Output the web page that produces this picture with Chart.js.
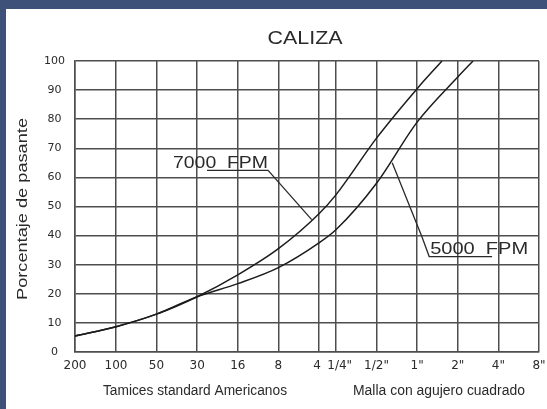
<!DOCTYPE html>
<html>
<head>
<meta charset="utf-8">
<script src="https://cdn.jsdelivr.net/npm/chart.js@4.4.1/dist/chart.umd.min.js"></script>
<style>
  html, body { margin: 0; padding: 0; background: #fff; overflow: hidden; }
  #wrap { position: relative; width: 547px; height: 409px; overflow: hidden; background: #fff; }
  #chart { position: absolute; left: 0; top: 0; }
  .bar { position: absolute; background: #3e5279; }
</style>
</head>
<body>
<div id="wrap">
  <canvas id="chart" width="560" height="409"></canvas>
  <div class="bar" style="left:0;top:0;width:547px;height:9px"></div>
  <div class="bar" style="left:0;top:0;width:6px;height:409px"></div>
</div>
<script>
// sieve openings in mm (log axis) and the labels printed under them
const SIEVE_MM = [0.074, 0.149, 0.297, 0.595, 1.19, 2.38, 4.76, 6.35, 12.7, 25.4, 50.8, 101.6, 203.2];
const SIEVE_LABELS = ['200', '100', '50', '30', '16', '8', '4 ', '  1/4"', '1/2"', '1"', '2"', '4"', '8"'];
const Y_TICKS = [0, 10, 20, 30, 40, 50, 60, 70, 80, 90, 100];

// percent passing
const FPM7000_X = [0.074, 0.149, 0.297, 0.595, 1.19, 2.38, 4.76, 6.35, 12.7, 25.4, 38.8];
const FPM7000_Y = [5.5, 8.7, 13, 19, 26.5, 35.5, 47.5, 54, 73.5, 90.5, 100];
const FPM5000_X = [0.074, 0.149, 0.297, 0.595, 1.19, 2.38, 4.76, 6.35, 12.7, 25.4, 50.8, 65.9];
const FPM5000_Y = [5.5, 8.7, 13, 19, 23.5, 29, 37.5, 42, 58, 79, 94.5, 100];

// leader notes, in data units (mm, %)
const NOTE_7000 = { text: '7000  FPM', at: [0.394, 63.2], line: [[0.704, 62.4], [1.995, 62.4], [4.2, 45.5]] };
const NOTE_5000 = { text: '5000  FPM', at: [31.7, 33.8], line: [[16.6, 65], [27.6, 39.5], [31.2, 32.8], [91.3, 32.8]] };

const INK = '#2a2a2a';
const GRID = '#4e4e4e';

const toPts = (xs, ys) => xs.map((x, i) => ({ x: x, y: ys[i] }));

// text squeezed/stretched to a given width, like the CAD lettering
function fitText(ctx, text, x, y, size, width, family) {
    ctx.font = size + 'px ' + (family || '"Liberation Sans", Arial, sans-serif');
    const w = ctx.measureText(text).width;
    ctx.save();
    ctx.translate(x, y);
    ctx.scale(width / w, 1);
    ctx.textAlign = 'left';
    ctx.fillText(text, 0, 0);
    ctx.restore();
}

function fitTextCenter(ctx, text, cx, y, size, width, family) {
    fitText(ctx, text, cx - width / 2, y, size, width, family);
}

const decor = {
    id: 'decor',
    afterDraw(chart) {
        const { ctx, scales: { x, y } } = chart;
        ctx.save();
        ctx.fillStyle = INK;
        ctx.strokeStyle = INK;
        ctx.textBaseline = 'alphabetic';

        fitTextCenter(ctx, 'CALIZA', 305, 44, 19, 75);

        // y axis title
        ctx.save();
        ctx.translate(27, 209);
        ctx.rotate(-Math.PI / 2);
        fitTextCenter(ctx, 'Porcentaje de pasante', 0, 0, 14, 182);
        ctx.restore();

        fitTextCenter(ctx, 'Tamices standard Americanos', 195, 395, 14, 184);
        fitTextCenter(ctx, 'Malla con agujero cuadrado', 439, 395, 14, 172);

        // leader notes
        [[NOTE_7000, 95], [NOTE_5000, 98]].forEach(([n, w]) => {
            fitText(ctx, n.text, x.getPixelForValue(n.at[0]), y.getPixelForValue(n.at[1]), 16, w);
            ctx.lineWidth = 1.3;
            ctx.beginPath();
            n.line.forEach((p, i) => {
                const px = x.getPixelForValue(p[0]), py = y.getPixelForValue(p[1]);
                if (i === 0) ctx.moveTo(px, py); else ctx.lineTo(px, py);
            });
            ctx.stroke();
        });
        ctx.restore();
    }
};

new Chart(document.getElementById('chart'), {
    type: 'line',
    data: {
        datasets: [
            { label: '7000 FPM', data: toPts(FPM7000_X, FPM7000_Y) },
            { label: '5000 FPM', data: toPts(FPM5000_X, FPM5000_Y) }
        ]
    },
    options: {
        responsive: false,
        animation: false,
        devicePixelRatio: 1,
        layout: { padding: { left: 0, top: 61, right: 21, bottom: 7 } },
        elements: {
            line: { borderColor: '#1c1c1c', borderWidth: 1.5, cubicInterpolationMode: 'monotone', fill: false },
            point: { radius: 0, hoverRadius: 0 }
        },
        plugins: { legend: { display: false }, title: { display: false }, tooltip: { enabled: false } },
        scales: {
            x: {
                type: 'logarithmic',
                min: SIEVE_MM[0],
                max: SIEVE_MM[SIEVE_MM.length - 1],
                bounds: 'data',
                afterBuildTicks: s => { s.ticks = SIEVE_MM.map(v => ({ value: v })); },
                afterFit: s => { s.height = 50; },
                grid: { color: GRID, lineWidth: 1.5, drawTicks: false },
                border: { color: GRID, width: 1.5 },
                ticks: {
                    autoSkip: false, maxRotation: 0, minRotation: 0, padding: 7,
                    color: INK, font: { family: '"DejaVu Sans", sans-serif', size: 12 },
                    callback: (v, i) => SIEVE_LABELS[i]
                }
            },
            y: {
                min: 0,
                max: 100,
                afterBuildTicks: s => { s.ticks = Y_TICKS.map(v => ({ value: v })); },
                afterFit: s => { s.width = 75; },
                grid: { color: GRID, lineWidth: 1.5, drawTicks: false },
                border: { color: GRID, width: 1.5 },
                ticks: {
                    padding: 10, crossAlign: 'center',
                    color: INK, font: { family: '"DejaVu Sans", sans-serif', size: 11 },
                    callback: v => String(v)
                }
            }
        }
    },
    plugins: [decor]
});
</script>
</body>
</html>
